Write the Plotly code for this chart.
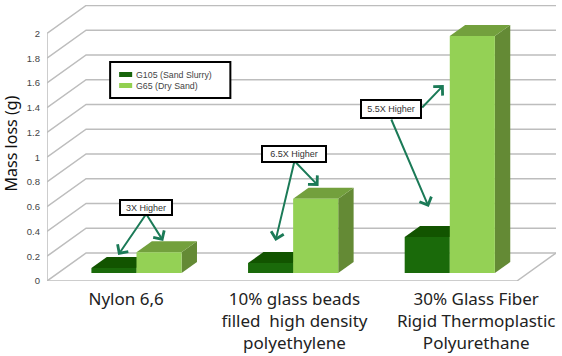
import plotly.graph_objects as go

# ---- data ----
categories = ["Nylon 6,6", "10% glass beads<br>filled  high density<br>polyethylene",
              "30% Glass Fiber<br>Rigid Thermoplastic<br>Polyurethane"]
series_names = ["G105 (Sand Slurry)", "G65 (Dry Sand)"]
g105 = [0.04, 0.08, 0.29]
g65 = [0.167, 0.60, 1.915]
y_ticks = [0, 0.2, 0.4, 0.6, 0.8, 1, 1.2, 1.4, 1.6, 1.8, 2]
y_tick_text = ["0", "0.2", "0.4", "0.6", "0.8", "1", "1.2", "1.4", "1.6", "1.8", "2"]
label_pos = [0.505, 1.58, 2.74]

# ---- scales (pixel calibration) ----
PX_X, X0 = 156.33, 47.0
PX_Y, Y0 = 123.75, 281.0
DX = 39 / PX_X          # oblique offset of back wall, category units
DY = 28 / PX_Y          # oblique offset of back wall, value units
X_MAX = 3 + DX
BAR_W = 45 / PX_X
D0, D1 = 0.286, 0.68    # bar depth span


def proj(x, v, d):
    return x + d * DX, v + d * DY


def fx(px):
    return (px - X0) / PX_X


def fy(py):
    return (Y0 - py) / PX_Y


def face(points, color, name):
    xs, ys = zip(*points)
    return go.Scatter(x=list(xs), y=list(ys), mode="lines", fill="toself", fillcolor=color,
                      line=dict(width=0, color=color), name=name, hoverinfo="skip", showlegend=False)


fig = go.Figure()

# grid: side wall + back wall lines, floor
gx, gy = [], []
for v in y_ticks:
    a = proj(0, v, 0)
    b = proj(0, v, 1)
    c = proj(3, v, 1)
    gx += [a[0], b[0], c[0], None]
    gy += [a[1], b[1], c[1], None]
fig.add_trace(go.Scatter(x=gx, y=gy, mode="lines", line=dict(color="#bdbdbd", width=1.5),
                         hoverinfo="skip", showlegend=False))
fx0 = [proj(3, 0, 1)[0], proj(3, 0, 0)[0], 0, 0]
fy0 = [proj(3, 0, 1)[1], 0, 0, 2]
fig.add_trace(go.Scatter(x=fx0, y=fy0, mode="lines", line=dict(color="#bdbdbd", width=1.5),
                         hoverinfo="skip", showlegend=False))
fig.add_trace(go.Scatter(x=[1, 1, None, 2, 2], y=[0, -0.012, None, 0, -0.012], mode="lines",
                         line=dict(color="#bdbdbd", width=1), hoverinfo="skip", showlegend=False))

# bars
palette = [
    dict(front="#1a6a0a", top="#125400", side="#125400"),
    dict(front="#94d155", top="#73a03d", side="#648a35"),
]
for s, (vals, pal) in enumerate(zip([g105, g65], palette)):
    for i, v in enumerate(vals):
        xl = i + 0.5 - BAR_W + s * BAR_W
        xr = xl + BAR_W
        fig.add_trace(face([proj(xr, 0, D0), proj(xr, 0, D1), proj(xr, v, D1), proj(xr, v, D0)],
                           pal["side"], series_names[s]))
        fig.add_trace(face([proj(xl, v, D0), proj(xr, v, D0), proj(xr, v, D1), proj(xl, v, D1)],
                           pal["top"], series_names[s]))
        fig.add_trace(face([proj(xl, 0, D0), proj(xr, 0, D0), proj(xr, v, D0), proj(xl, v, D0)],
                           pal["front"], series_names[s]))

ann = []
ARROW = "#1b7a57"
# callout arrows: (tail px, tip px)
arrows = [((146, 214), (118, 255)), ((146, 214), (163, 241)),
          ((294, 161), (275, 241)), ((294, 161), (318, 186)),
          ((420, 109), (443, 85)), ((390, 118), (428, 207))]
for (tx, ty), (hx, hy) in arrows:
    ann.append(dict(x=fx(hx), y=fy(hy), ax=fx(tx), ay=fy(ty), xref="x", yref="y", axref="x", ayref="y",
                    text="", showarrow=True, arrowhead=4, arrowsize=1.25, arrowwidth=2, arrowcolor=ARROW,
                    startstandoff=0, standoff=0))
callouts = [("3X Higher", 146, 207, 52, 15), ("6.5X Higher", 294, 154, 64, 16), ("5.5X Higher", 390, 109, 60, 18)]
for txt, px, py, w, h in callouts:
    ann.append(dict(x=fx(px), y=fy(py), xref="x", yref="y", text=txt, showarrow=False,
                    width=w - 4, height=h - 4,
                    font=dict(family="Liberation Sans", size=9, color="#333333"),
                    bgcolor="white", bordercolor="black", borderwidth=2, borderpad=1))

# legend
ann.append(dict(x=fx(134), y=fy(75), xref="x", yref="y", xanchor="left", text=series_names[0], showarrow=False,
                font=dict(family="Liberation Sans", size=8.8, color="#444444")))
ann.append(dict(x=fx(134), y=fy(86), xref="x", yref="y", xanchor="left", text=series_names[1], showarrow=False,
                font=dict(family="Liberation Sans", size=8.8, color="#444444")))

# y title
ann.append(dict(xref="paper", yref="y", x=-0.0955, y=fy(143), text="Mass loss (g)", textangle=-90, showarrow=False,
                font=dict(family="Noto Sans", size=16, color="#111111")))

shapes = [
    dict(type="rect", xref="x", yref="y", x0=fx(110), x1=fx(230), y0=fy(62), y1=fy(98),
         fillcolor="white", line=dict(color="black", width=2), layer="above"),
    dict(type="rect", xref="x", yref="y", x0=fx(119), x1=fx(132), y0=fy(72), y1=fy(77),
         fillcolor="#17640b", line=dict(width=0), layer="above"),
    dict(type="rect", xref="x", yref="y", x0=fx(119), x1=fx(132), y0=fy(83), y1=fy(88),
         fillcolor="#92d050", line=dict(width=0), layer="above"),
]

fig.update_layout(
    width=562, height=356, margin=dict(l=47, r=6, t=5, b=75, autoexpand=False),
    paper_bgcolor="white", plot_bgcolor="white", showlegend=False,
    annotations=ann, shapes=shapes,
    xaxis=dict(range=[0, X_MAX], tickmode="array", tickvals=label_pos, ticktext=categories,
               showgrid=False, zeroline=False, showline=False, ticks="", ticklabelstandoff=6,
               tickfont=dict(family="Noto Sans", size=17, color="#222222"), fixedrange=True),
    yaxis=dict(range=[0, fy(5)], tickmode="array", tickvals=y_ticks, ticktext=y_tick_text,
               showgrid=False, zeroline=False, showline=False, ticks="", ticklabelstandoff=6,
               tickfont=dict(family="Liberation Sans", size=9.5, color="#444444"), fixedrange=True),
)

fig.write_html("out.html", post_script="document.body.style.margin='0';",
               config={"displayModeBar": False})
